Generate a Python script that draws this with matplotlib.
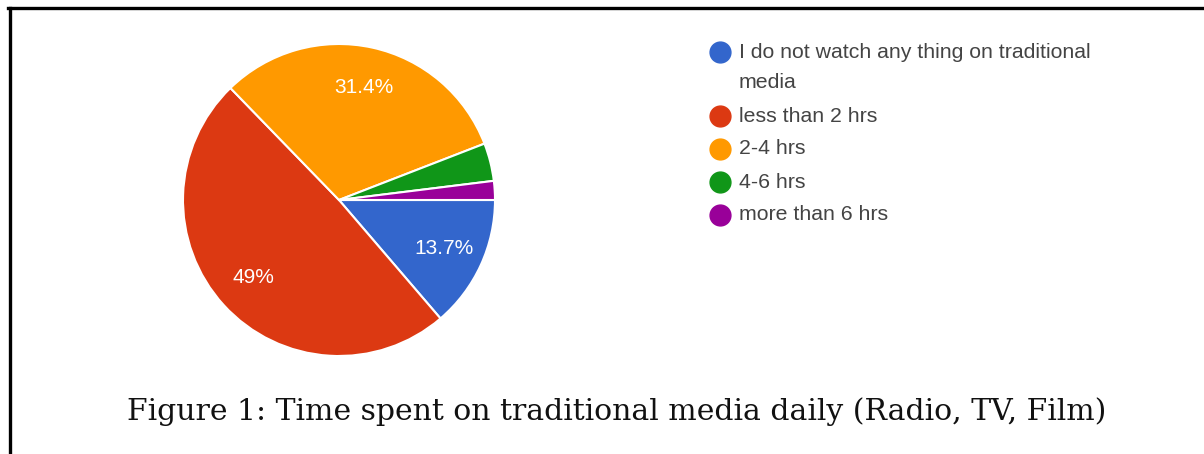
import matplotlib.pyplot as plt
from matplotlib.lines import Line2D

# Data
categories = ["I do not watch any thing on traditional\nmedia", "less than 2 hrs",
              "2-4 hrs", "4-6 hrs", "more than 6 hrs"]
counts = [7, 25, 16, 2, 1]
colors = ["#3366CC", "#DC3912", "#FF9900", "#109618", "#990099"]
title = "Figure 1: Time spent on traditional media daily (Radio, TV, Film)"


def pct_label(p):
    # Google-style: hide labels on small slices
    if p < 5:
        return ""
    s = "%.1f" % p
    if s.endswith(".0"):
        s = s[:-2]
    return s + "%"


W, H = 1204, 454
fig = plt.figure(figsize=(W / 100, H / 100), dpi=100)

# Pie area
ax = fig.add_axes([183 / W, 1 - 356 / H, 312 / W, 312 / H])
wedges, texts, autotexts = ax.pie(
    counts, colors=colors, startangle=0, counterclock=False,
    autopct=pct_label, pctdistance=0.74, radius=1,
    wedgeprops=dict(edgecolor="white", linewidth=1.5),
    textprops=dict(color="white", fontsize=15, family="Liberation Sans"))
ax.set_xlim(-1.0, 1.0)
ax.set_ylim(-1.0, 1.0)
ax.set_aspect("equal")
ax.axis("off")

# Legend (Google-chart style: dot aligned with the first line of its label)
y = 52
for label, c in zip(categories, colors):
    fig.add_artist(Line2D([720 / W], [1 - y / H], marker="o", markersize=15,
                          linestyle="", color=c, transform=fig.transFigure))
    lines = label.split("\n")
    for i, line in enumerate(lines):
        fig.text(739 / W, 1 - (y + 31 * i) / H, line, ha="left", va="center",
                 family="Liberation Sans", fontsize=15.3, color="#444444")
    y += 31 * (len(lines) - 1) + 33

# Caption
fig.text(617 / W, 1 - 412 / H, title, ha="center", va="center",
         family="DejaVu Serif", fontsize=21.5, color="#111111")

# Border lines (top and left)
fig.add_artist(Line2D([8 / W, 1], [1 - 7.5 / H, 1 - 7.5 / H],
                      color="black", linewidth=2.4, transform=fig.transFigure))
fig.add_artist(Line2D([9.5 / W, 9.5 / W], [0, 1 - 7.5 / H],
                      color="black", linewidth=2.4, transform=fig.transFigure))

fig.savefig("out.png", dpi=100, facecolor="white")
